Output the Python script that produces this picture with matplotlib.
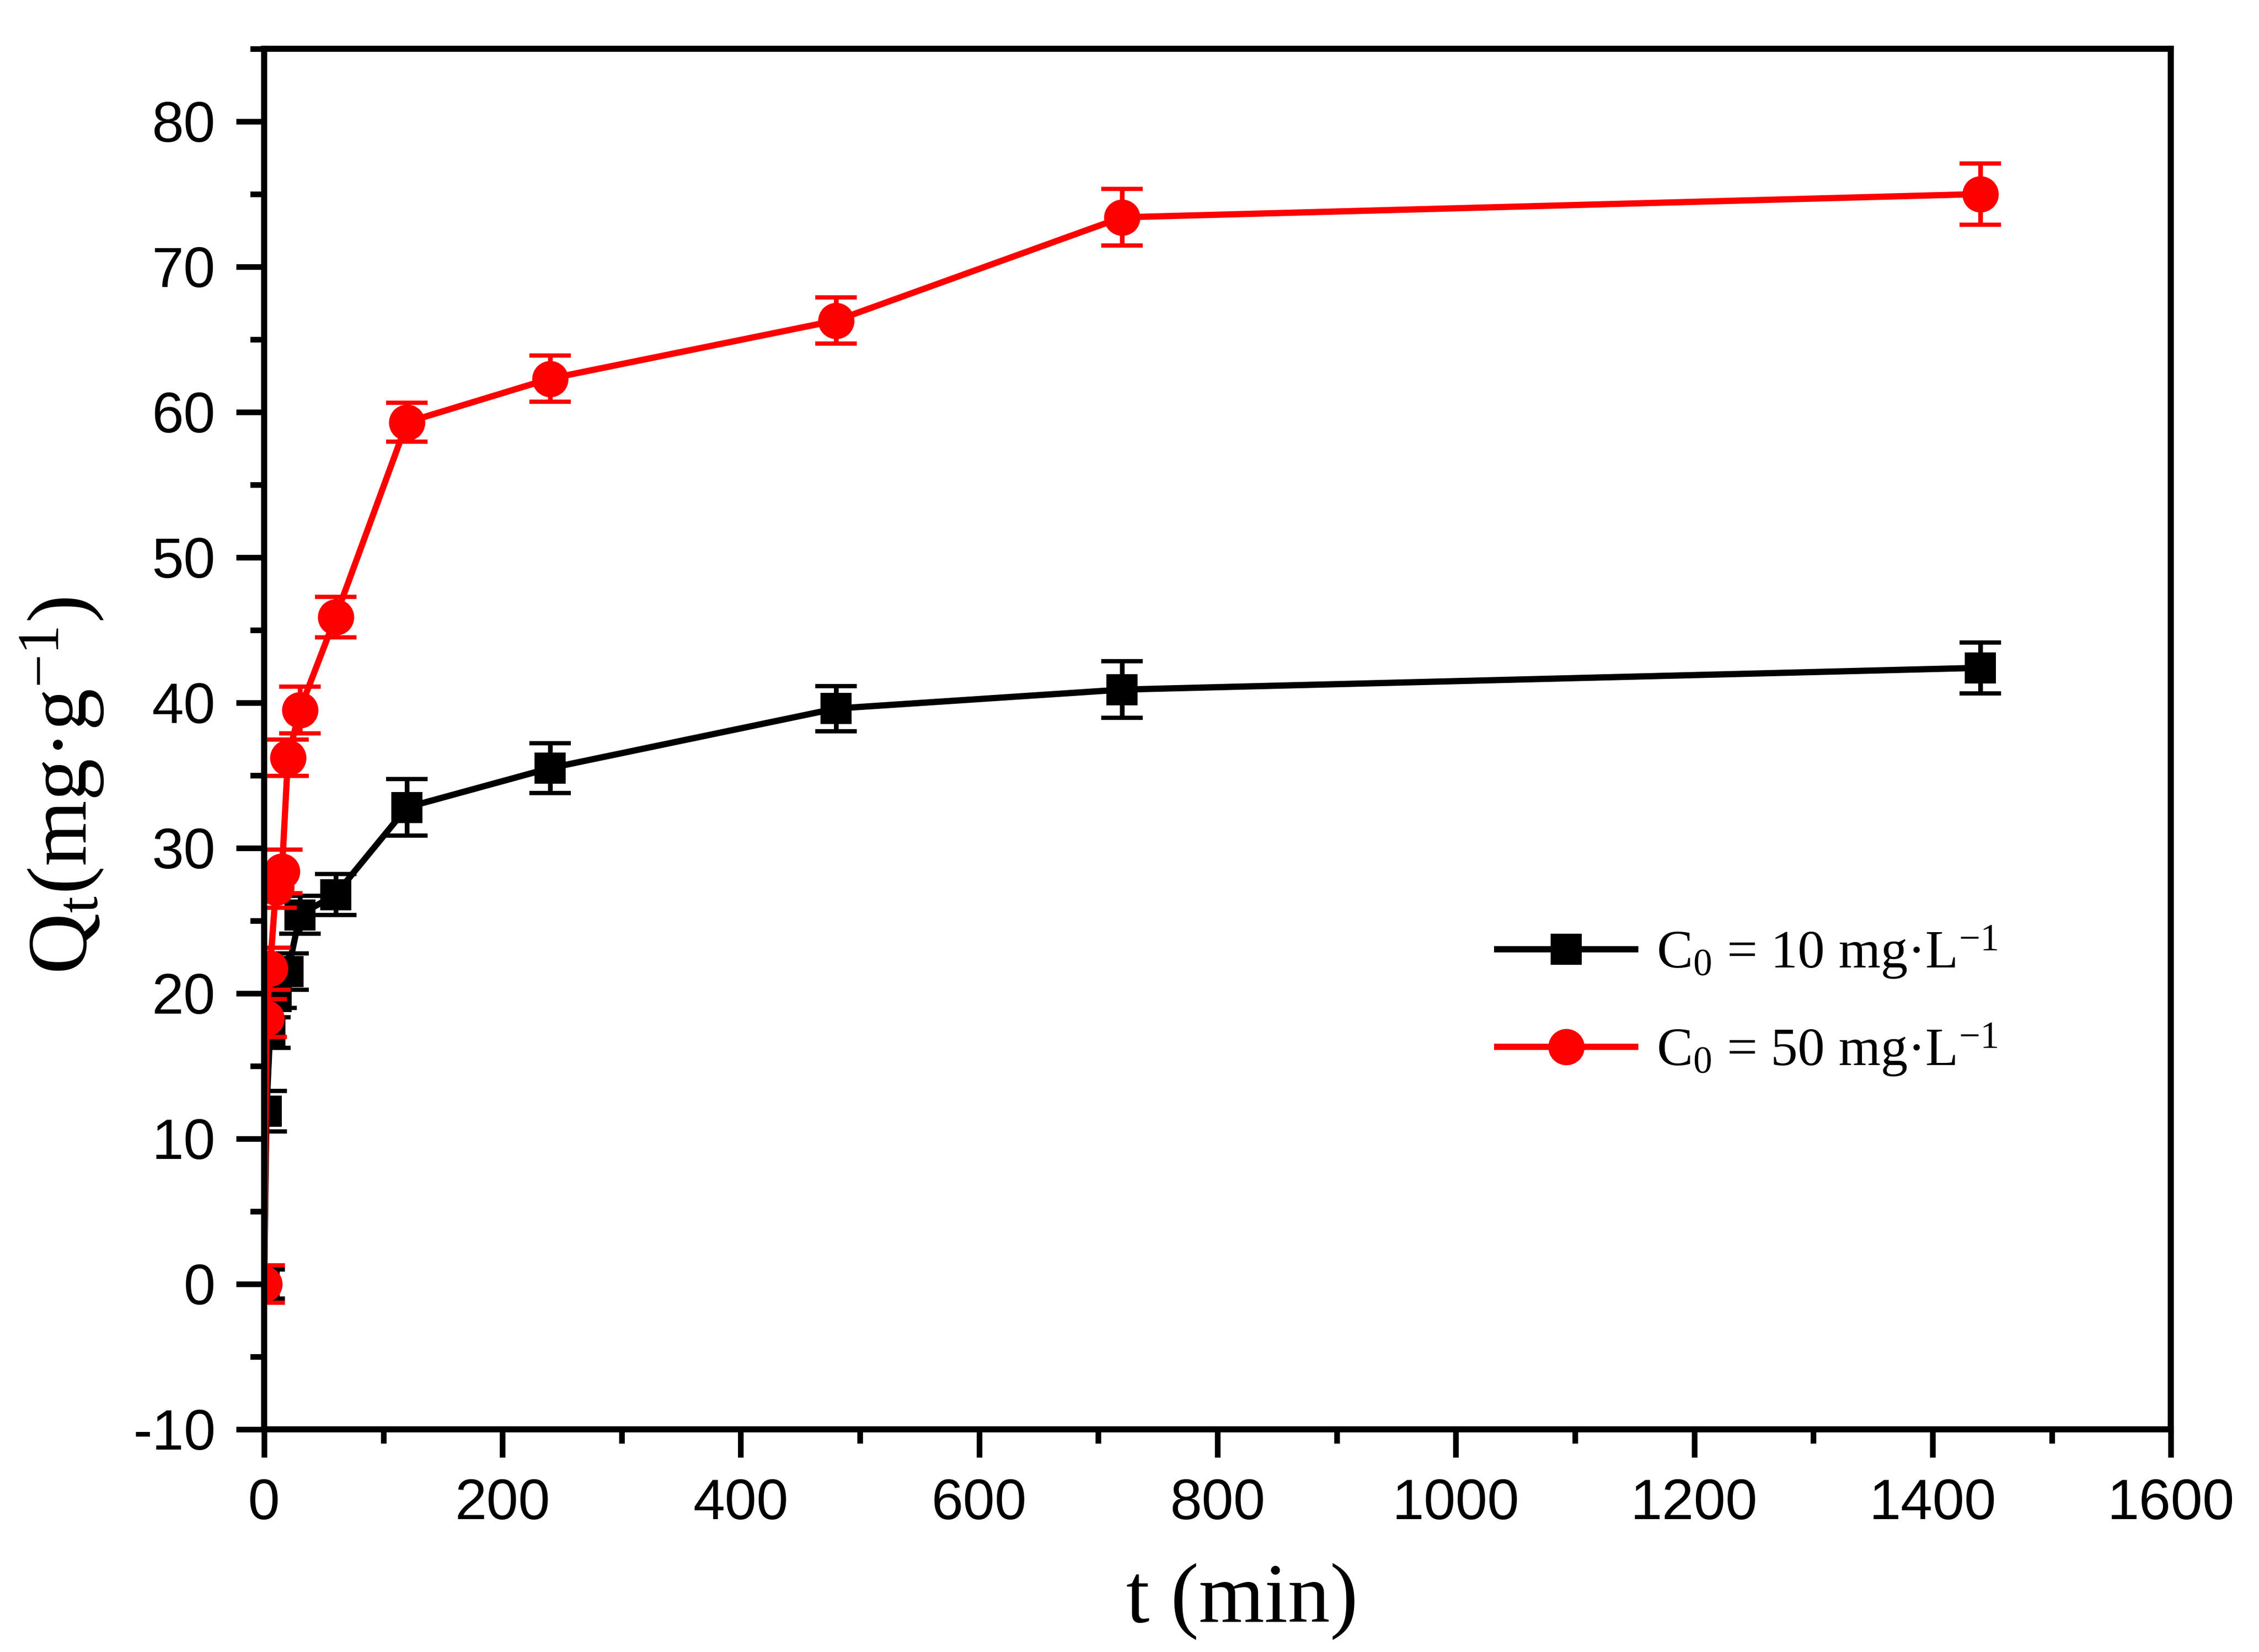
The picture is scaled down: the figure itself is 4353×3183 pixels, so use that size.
import matplotlib
matplotlib.use('Agg')
import matplotlib.pyplot as plt
from matplotlib.ticker import MultipleLocator

# data
t_10 = [0, 2, 5, 10, 20, 30, 60, 120, 240, 480, 720, 1440]
q_10 = [0, 11.9, 17.3, 19.8, 21.5, 25.4, 26.8, 32.8, 35.5, 39.6, 40.9, 42.4]
err_10 = [1.0, 1.4, 1.05, 0.8, 1.25, 1.3, 1.4, 1.95, 1.7, 1.55, 1.95, 1.75]

t_50 = [0, 2, 5, 10, 15, 20, 30, 60, 120, 240, 480, 720, 1440]
q_50 = [0, 18.3, 21.7, 27.3, 28.4, 36.2, 39.5, 45.9, 59.3, 62.3, 66.3, 73.4, 75.0]
err_50 = [1.3, 1.3, 1.45, 1.4, 1.5, 1.25, 1.6, 1.4, 1.35, 1.6, 1.6, 1.95, 2.1]

label_10 = r'C$_\mathrm{0}$ = 10 mg·L$^{\mathrm{-1}}$'
label_50 = r'C$_\mathrm{0}$ = 50 mg·L$^{\mathrm{-1}}$'

plt.rcParams['font.family'] = 'Liberation Serif'
plt.rcParams['mathtext.fontset'] = 'custom'
plt.rcParams['mathtext.rm'] = 'Liberation Serif'
plt.rcParams['mathtext.it'] = 'Liberation Serif:italic'
plt.rcParams['mathtext.bf'] = 'Liberation Serif:bold'
plt.rcParams['axes.unicode_minus'] = False

fig = plt.figure(figsize=(4353 / 300, 3183 / 300), dpi=300)
ax = fig.add_axes([0.1169, 0.1348, 0.961 - 0.1169, 0.9705 - 0.1348])

# error bars first, then lines with markers (legend shows line + marker only)
ax.errorbar(t_10, q_10, yerr=err_10, fmt='none', ecolor='black',
            elinewidth=2.2, capsize=9.5, capthick=2.0)
line10, = ax.plot(t_10, q_10, color='black', lw=2.9, marker='s',
                  markersize=14.4, markeredgewidth=0, label=label_10)

ax.errorbar(t_50, q_50, yerr=err_50, fmt='none', ecolor='red',
            elinewidth=2.2, capsize=9.5, capthick=2.0)
line50, = ax.plot(t_50, q_50, color='red', lw=2.9, marker='o',
                  markersize=16.8, markeredgewidth=0, label=label_50)

ax.set_xlim(0, 1600)
ax.set_ylim(-10, 85)
ax.xaxis.set_major_locator(MultipleLocator(200))
ax.xaxis.set_minor_locator(MultipleLocator(100))
ax.yaxis.set_major_locator(MultipleLocator(10))
ax.yaxis.set_minor_locator(MultipleLocator(5))

for s in ax.spines.values():
    s.set_linewidth(2.8)

ax.tick_params(which='both', direction='out', width=2.6, top=False, right=False)
ax.tick_params(which='major', length=13, pad=9.5, labelsize=26.5,
               labelfontfamily='Liberation Sans')
ax.tick_params(which='minor', length=6.5)

ax.set_xlabel('t (min)', fontsize=39)
ax.xaxis.set_label_coords(0.513, -0.097)
ax.set_ylabel(r'Q$_\mathrm{t}$(mg·g$^{\mathrm{-1}}$)', fontsize=39)
ax.yaxis.set_label_coords(-0.083, 0.466)

ax.legend(handles=[line10, line50], loc='center left',
          bbox_to_anchor=(0.6467, 0.310), frameon=False, fontsize=25,
          handlelength=2.55, handletextpad=0.4, labelspacing=0.75,
          borderpad=0, borderaxespad=0)

fig.savefig('out.png', dpi=300)
